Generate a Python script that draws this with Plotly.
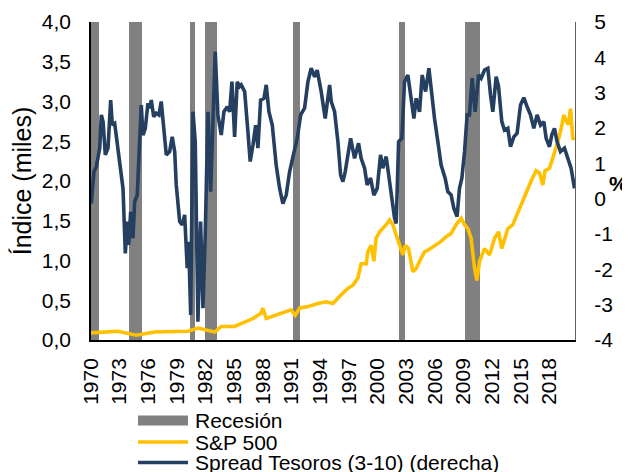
import plotly.graph_objects as go

# Recession bands (start, end) in decimal years as drawn on the chart
rec_start = [1970.0, 1974.0, 1980.36, 1981.92, 1991.16, 2002.22, 2009.19]
rec_end = [1970.8, 1975.3, 1980.85, 1983.21, 1991.89, 2002.88, 2010.76]

# S&P 500 (thousands of points)
sp_x = [1970.0, 1972.82, 1974.74, 1976.66, 1980.15, 1981.19, 1982.94, 1983.63, 1985.03,
        1986.08, 1986.95, 1987.81, 1987.99, 1988.34, 1989.22, 1990.26, 1990.95, 1991.37,
        1991.83, 1992.7, 1993.74, 1994.61, 1995.31, 1996.18, 1996.88, 1997.41, 1997.93,
        1998.27, 1998.8, 1998.97, 1999.32, 1999.6, 1999.84, 2000.2, 2000.54, 2000.89,
        2001.25, 2001.59, 2001.94, 2002.29, 2002.64, 2002.88, 2003.23, 2003.68, 2004.03,
        2004.38, 2004.91, 2005.25, 2005.95, 2006.64, 2007.17, 2007.69, 2008.21, 2008.74,
        2009.09, 2009.44, 2009.78, 2010.14, 2010.38, 2010.66, 2011.18, 2011.71, 2012.23,
        2012.65, 2012.99, 2013.27, 2013.62, 2014.14, 2014.67, 2015.01, 2015.54, 2016.06,
        2016.58, 2016.94, 2017.28, 2017.52, 2017.98, 2018.43, 2018.85, 2019.2, 2019.48,
        2019.76, 2019.97, 2020.18, 2020.42, 2020.6]
sp_y = [0.09, 0.11, 0.06, 0.10, 0.11, 0.15, 0.10, 0.17, 0.17,
        0.23, 0.27, 0.34, 0.40, 0.27, 0.31, 0.36, 0.38, 0.31,
        0.40, 0.42, 0.46, 0.48, 0.46, 0.57, 0.65, 0.69, 0.78,
        0.96, 0.96, 1.11, 1.19, 0.99, 1.28, 1.36, 1.40, 1.45,
        1.51, 1.45, 1.32, 1.19, 1.07, 1.19, 1.15, 0.86, 0.90,
        0.99, 1.11, 1.13, 1.19, 1.24, 1.30, 1.34, 1.45, 1.53,
        1.45, 1.40, 1.28, 0.90, 0.75, 0.99, 1.15, 1.07, 1.28,
        1.36, 1.15, 1.28, 1.40, 1.45, 1.61, 1.70, 1.87, 2.00,
        2.13, 2.10, 1.95, 2.13, 2.16, 2.33, 2.49, 2.66, 2.83,
        2.75, 2.71, 2.91, 2.54, 2.52]

# Spread Tesoros 3m-10y (%)
spread_x = [1970.03, 1970.31, 1970.55, 1970.91, 1971.08, 1971.26, 1971.5, 1971.78, 1972.06,
            1972.23, 1972.48, 1972.82, 1973.06, 1973.35, 1973.59, 1973.8, 1973.94, 1974.15,
            1974.39, 1974.57, 1974.84, 1975.09, 1975.26, 1975.44, 1975.68, 1975.96, 1976.14,
            1976.31, 1976.56, 1976.83, 1977.11, 1977.35, 1977.64, 1977.88, 1978.23, 1978.5,
            1978.76, 1978.92, 1979.28, 1979.55, 1979.8, 1980.07, 1980.22, 1980.43, 1980.67,
            1980.91, 1981.19, 1981.47, 1981.72, 1981.96, 1982.24, 1982.52, 1983.0, 1983.28,
            1983.63, 1983.91, 1984.26, 1984.51, 1984.75, 1985.03, 1985.3, 1985.55, 1985.72,
            1986.08, 1986.42, 1986.66, 1986.95, 1987.23, 1987.47, 1987.75, 1988.1, 1988.34,
            1988.62, 1988.97, 1989.38, 1989.74, 1990.08, 1990.43, 1990.78, 1991.23, 1991.58,
            1991.94, 1992.35, 1992.7, 1993.04, 1993.4, 1993.67, 1994.09, 1994.51, 1994.97,
            1995.14, 1995.49, 1995.84, 1996.12, 1996.36, 1996.6, 1996.88, 1997.17, 1997.58,
            1998.0, 1998.27, 1998.63, 1998.9, 1999.26, 1999.6, 1999.95, 2000.3, 2000.54,
            2000.89, 2001.25, 2001.59, 2001.77, 2001.94, 2002.19, 2002.53, 2002.81, 2003.16,
            2003.5, 2003.79, 2004.03, 2004.38, 2004.66, 2005.01, 2005.36, 2005.67, 2005.95,
            2006.3, 2006.64, 2007.06, 2007.34, 2007.69, 2007.97, 2008.31, 2008.56, 2008.81,
            2009.09, 2009.36, 2009.61, 2009.89, 2010.2, 2010.56, 2010.83, 2011.18, 2011.53,
            2011.81, 2012.05, 2012.4, 2012.65, 2012.99, 2013.27, 2013.62, 2013.9, 2014.25,
            2014.59, 2014.95, 2015.29, 2015.64, 2015.99, 2016.34, 2016.68, 2017.04, 2017.39,
            2017.63, 2017.98, 2018.22, 2018.5, 2018.78, 2019.13, 2019.55, 2019.9, 2020.24,
            2020.6]
spread_y = [-0.14, 0.76, 0.90, 1.43, 2.37, 2.18, 1.24, 1.43, 2.79,
            2.08, 2.13, 1.43, 0.95, 0.29, -1.55, -0.65, -1.31, -0.37,
            -1.12, -0.08, 0.10, 1.90, 2.65, 1.80, 1.99, 2.70, 2.56,
            2.79, 2.32, 2.42, 2.37, 2.75, 1.99, 1.24, 1.33, 1.75,
            1.33, 0.39, -0.65, -0.74, -0.46, -1.97, -1.22, -3.29, 2.46,
            1.61, -3.48, -0.65, -3.10, -0.93, 2.46, 0.20, 4.16, 2.37,
            1.80, 2.46, 2.60, 2.46, 3.31, 1.75, 3.31, 3.17, 3.22,
            3.03, 1.90, 1.05, 1.52, 2.08, 1.43, 2.79, 2.84, 3.22,
            2.46, 2.08, 0.95, 0.29, -0.14, 0.10, 0.76, 1.24, 1.71,
            2.37, 2.56, 3.31, 3.69, 3.45, 3.64, 3.03, 2.27, 3.22,
            2.75, 2.46, 1.61, 0.67, 0.48, 0.76, 1.24, 1.71, 1.14,
            1.57, 1.14, 0.86, 0.39, 0.58, 0.10, 0.29, 1.24, 0.86,
            1.19, 0.48, -0.08, -0.56, -0.70, 1.61, 1.71, 3.31, 3.50,
            2.84, 2.27, 2.84, 2.46, 3.50, 3.03, 3.69, 2.84, 2.27,
            1.61, 0.95, 0.58, 0.20, 0.10, -0.27, -0.51, 0.29, 0.58,
            1.33, 2.37, 2.37, 3.41, 2.46, 3.50, 3.41, 3.64, 3.69,
            2.93, 2.46, 3.45, 3.17, 2.18, 1.94, 1.99, 1.47, 1.75,
            1.85, 2.65, 2.86, 2.60, 2.37, 1.99, 2.37, 2.08, 2.18,
            1.71, 1.47, 1.80, 1.99, 1.61, 1.33, 1.43, 1.14, 0.86,
            0.29]

year_ticks = list(range(1970, 2019, 3))
left_ticks = [0, 0.5, 1, 1.5, 2, 2.5, 3, 3.5, 4]
right_ticks = [-4, -3, -2, -1, 0, 1, 2, 3, 4, 5]

series_names = ["Recesión", "S&P 500", "Spread Tesoros (3-10) (derecha)"]
series_colors = ["#808080", "#FFC000", "#243F60"]

font_family = "Liberation Sans, Arial, sans-serif"
line_w = 3.6

fig = go.Figure()

fig.add_trace(go.Bar(
    x=[(s + e) / 2 for s, e in zip(rec_start, rec_end)],
    y=[4.0] * len(rec_start),
    width=[e - s for s, e in zip(rec_start, rec_end)],
    marker=dict(color=series_colors[0], line=dict(width=0)),
    name=series_names[0],
))

fig.add_trace(go.Scatter(
    x=sp_x, y=sp_y, mode="lines", name=series_names[1],
    line=dict(color=series_colors[1], width=line_w),
))

fig.add_trace(go.Scatter(
    x=spread_x, y=spread_y, mode="lines", name=series_names[2],
    line=dict(color=series_colors[2], width=line_w), yaxis="y2",
))


# hand-built legend below the axis; positions in page pixels
# (plot area sits at x 91-575, y 22-340 on the page)
def px_x(p):
    return (p - 91) / 484


def px_y(p):
    return (340 - p) / 318


legend_rows = [420.5, 442, 462.5]
shapes = [dict(
    type="rect", xref="paper", yref="paper",
    x0=px_x(138), x1=px_x(188), y0=px_y(415.5), y1=px_y(425.5),
    fillcolor=series_colors[0], line=dict(width=0),
)]
for row, color in zip(legend_rows[1:], series_colors[1:]):
    shapes.append(dict(
        type="line", xref="paper", yref="paper",
        x0=px_x(138), x1=px_x(188), y0=px_y(row), y1=px_y(row),
        line=dict(color=color, width=line_w),
    ))

annotations = [dict(
    text=name, xref="paper", yref="paper",
    x=px_x(193), y=px_y(row), xanchor="left", yanchor="middle",
    showarrow=False, font=dict(size=21),
) for name, row in zip(series_names, legend_rows)]

annotations.append(dict(
    text="<b>%</b>", xref="paper", yref="paper",
    x=px_x(630), y=px_y(183), xanchor="right", yanchor="middle",
    showarrow=False, font=dict(size=21),
))

# the page body adds an 8px offset, so the figure is 8px smaller on each side
fig.update_layout(
    width=622,
    height=464,
    margin=dict(l=83, r=55, t=14, b=132),
    paper_bgcolor="white",
    plot_bgcolor="white",
    separators=",.",
    font=dict(family=font_family, size=21, color="#000000"),
    bargap=0,
    showlegend=False,
    shapes=shapes,
    annotations=annotations,
    xaxis=dict(
        range=[1970, 2020.65],
        tickvals=year_ticks,
        ticktext=[str(y) for y in year_ticks],
        tickangle=-90,
        showgrid=False,
        zeroline=False,
        showline=True,
        linecolor="#000000",
        linewidth=1.5,
        ticks="outside",
        ticklen=8,
        tickcolor="rgba(0,0,0,0)",
        automargin=False,
    ),
    yaxis=dict(
        range=[0, 4],
        tickvals=left_ticks,
        tickformat=".1f",
        showgrid=False,
        zeroline=False,
        showline=True,
        linecolor="#000000",
        linewidth=1.5,
        ticks="outside",
        ticklen=14,
        tickcolor="rgba(0,0,0,0)",
        automargin=False,
        title=dict(text="Índice (miles)", standoff=7),
    ),
    yaxis2=dict(
        range=[-4, 5],
        overlaying="y",
        side="right",
        tickvals=right_ticks,
        ticktext=[str(v) for v in right_ticks],
        showgrid=False,
        zeroline=False,
        showline=True,
        linecolor="#606060",
        linewidth=1,
        ticks="outside",
        ticklen=14,
        tickcolor="rgba(0,0,0,0)",
        automargin=False,
    ),
)

fig.write_html("out.html")
